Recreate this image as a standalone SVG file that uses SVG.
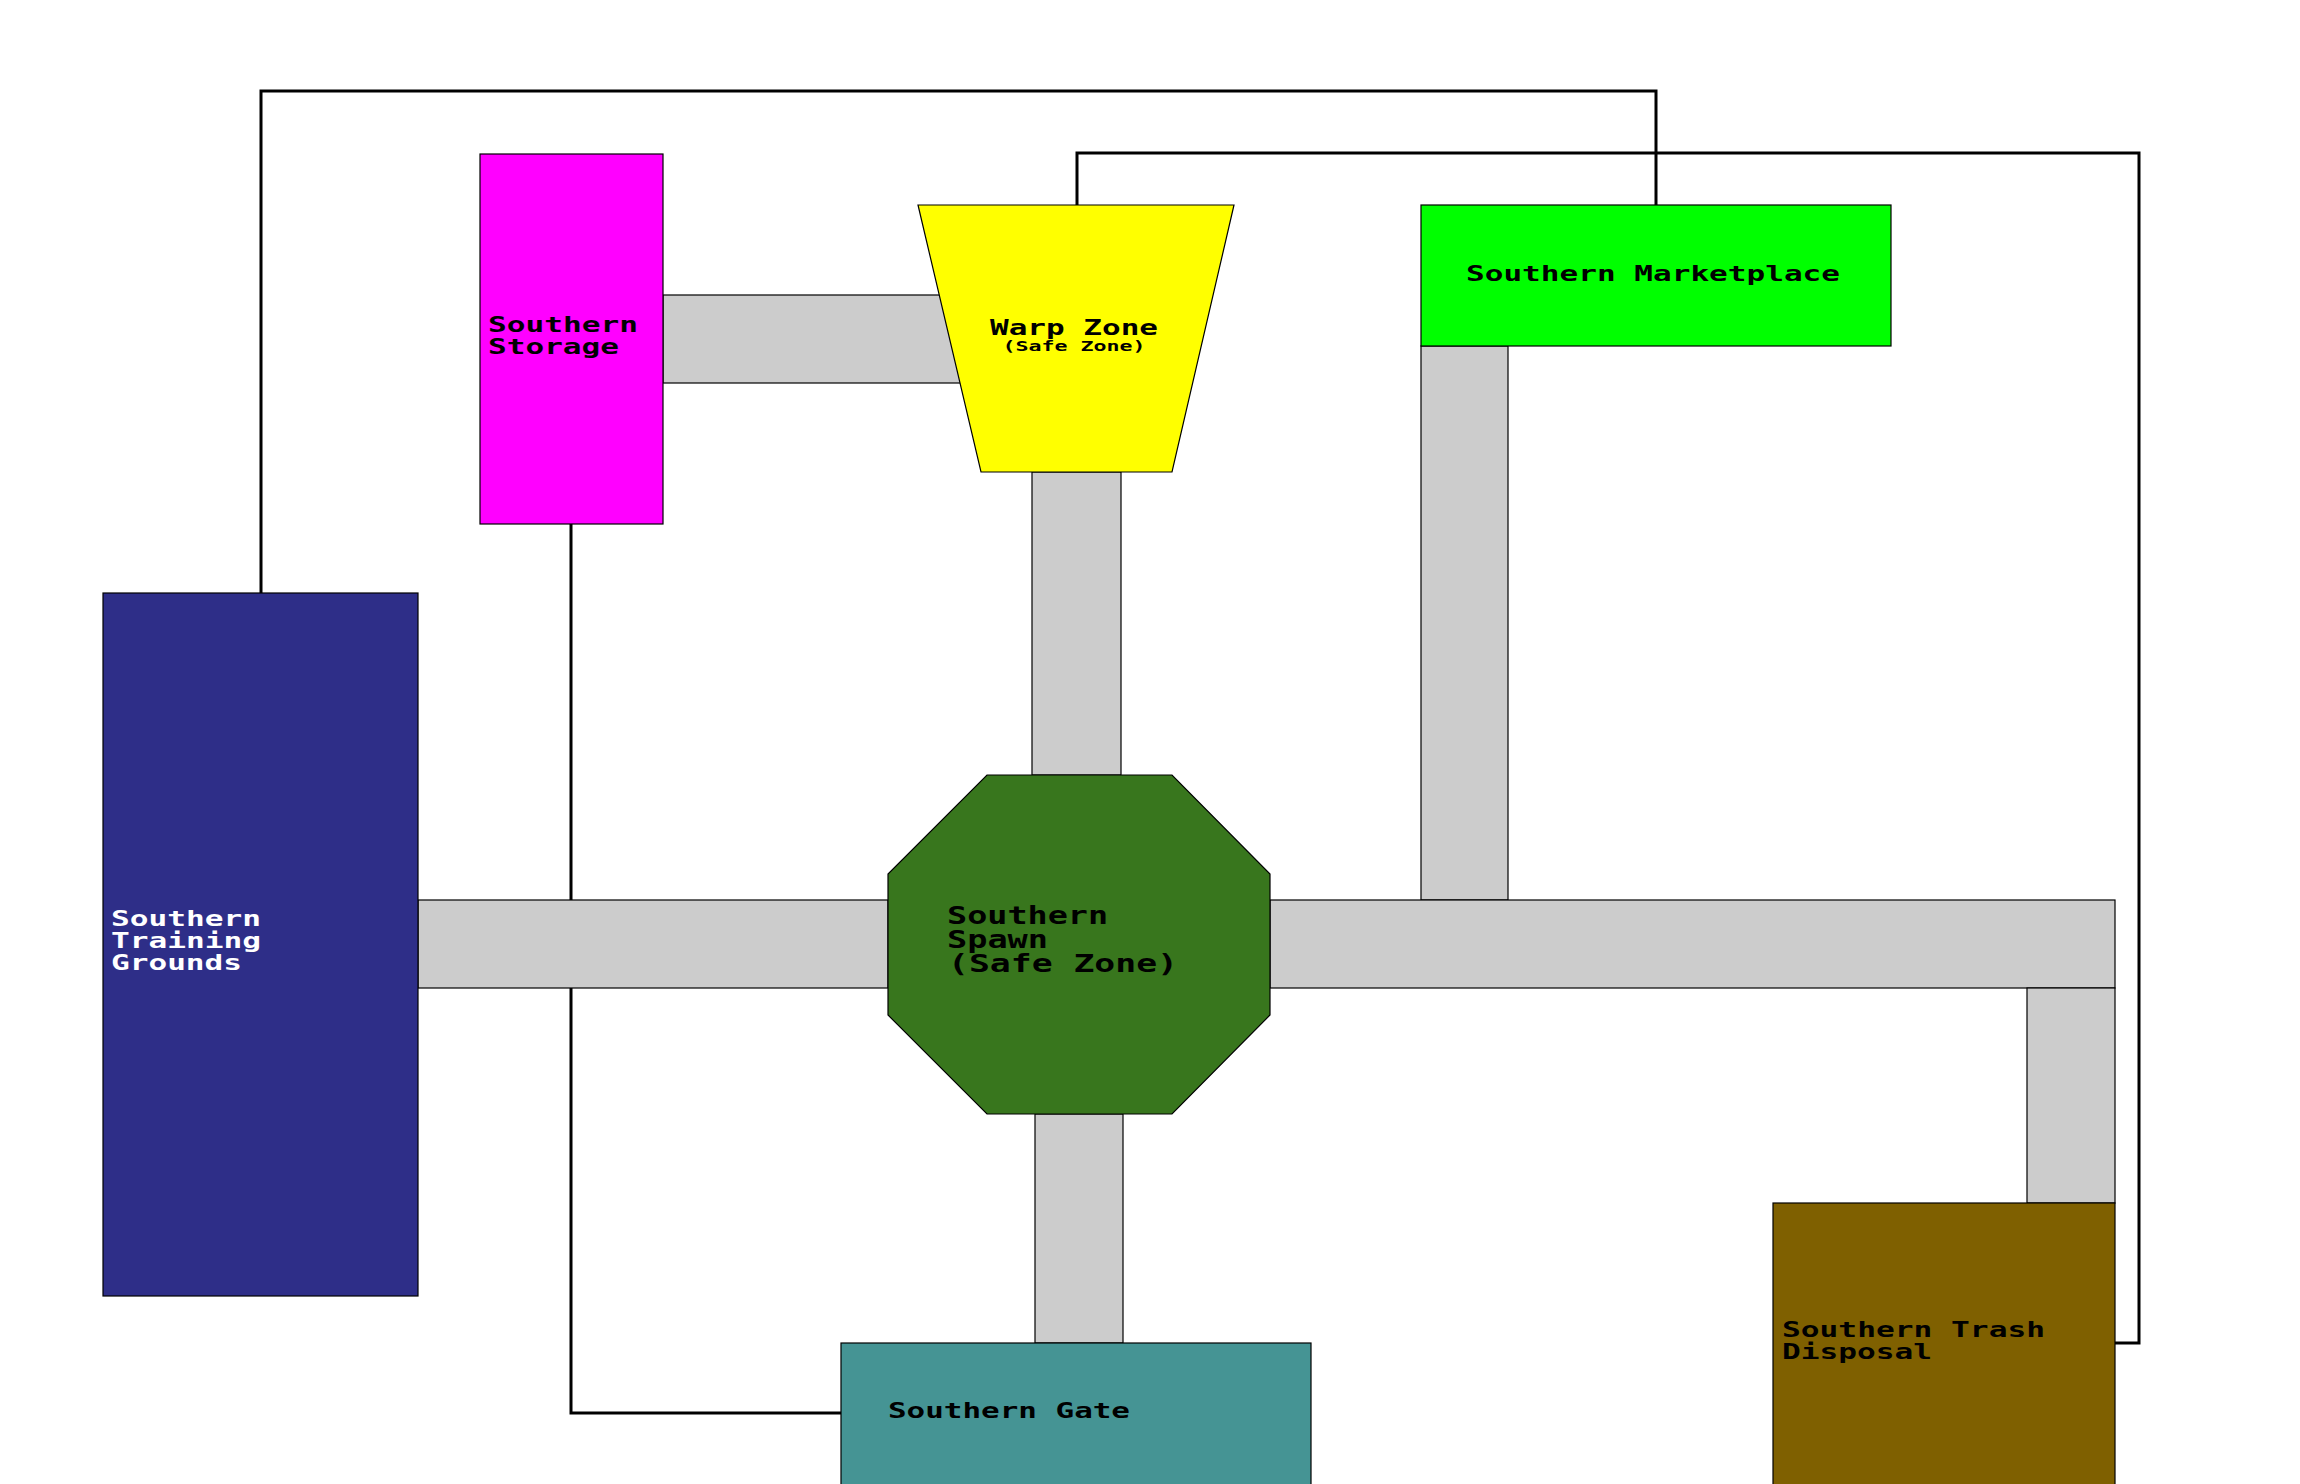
<svg xmlns="http://www.w3.org/2000/svg" width="2300" height="1484" viewBox="0 0 2300 1484">
<style>
.bg{fill:#ffffff}
.link{fill:none;stroke:#000000;stroke-width:3}
.band{fill:#cccccc;stroke:#000000;stroke-width:1.2}
.node{stroke:#000000;stroke-width:1.2}
.t{font-family:"DejaVu Sans Mono","Liberation Mono",monospace;font-weight:bold;font-size:21px;fill:#000000}
.w{fill:#ffffff}
.big{font-size:24px}
.small{font-size:13.5px}
</style>
<rect class="bg" x="0" y="0" width="2300" height="1484"/>
<g id="connectors">
<polyline class="link" points="261,593 261,91 1656,91 1656,205"/>
<polyline class="link" points="1077,205 1077,153 2139,153 2139,1343 2115,1343"/>
<polyline class="link" points="571,524 571,1413 841,1413"/>
<rect class="band" x="663" y="295" width="320" height="88"/>
<rect class="band" x="1032" y="472" width="89" height="303"/>
<rect class="band" x="1421" y="346" width="87" height="554"/>
<rect class="band" x="418" y="900" width="470" height="88"/>
<rect class="band" x="1270" y="900" width="845" height="88"/>
<rect class="band" x="2027" y="988" width="88" height="215"/>
<rect class="band" x="1035" y="1114" width="88" height="229"/>
</g>
<g id="storage">
<rect class="node" x="480" y="154" width="183" height="370" fill="#ff00ff"/>
<text class="t" x="488" y="332" textLength="150" lengthAdjust="spacingAndGlyphs">Southern</text>
<text class="t" x="488" y="354" textLength="131" lengthAdjust="spacingAndGlyphs">Storage</text>
</g>
<g id="warp">
<polygon class="node" points="918,205 1234,205 1172,472 981,472" fill="#ffff00"/>
<text class="t" x="1074" y="335" text-anchor="middle" textLength="168" lengthAdjust="spacingAndGlyphs">Warp Zone</text>
<text class="t small" x="1074" y="351" text-anchor="middle" textLength="143" lengthAdjust="spacingAndGlyphs">(Safe Zone)</text>
</g>
<g id="marketplace">
<rect class="node" x="1421" y="205" width="470" height="141" fill="#00ff00"/>
<text class="t" x="1466" y="281" textLength="374" lengthAdjust="spacingAndGlyphs">Southern Marketplace</text>
</g>
<g id="training">
<rect class="node" x="103" y="593" width="315" height="703" fill="#2e2e88"/>
<text class="t w" x="111" y="926" textLength="150" lengthAdjust="spacingAndGlyphs">Southern</text>
<text class="t w" x="111" y="948" textLength="150" lengthAdjust="spacingAndGlyphs">Training</text>
<text class="t w" x="111" y="970" textLength="131" lengthAdjust="spacingAndGlyphs">Grounds</text>
</g>
<g id="spawn">
<polygon class="node" points="987,775 1172,775 1270,874 1270,1015 1172,1114 987,1114 888,1015 888,874" fill="#38761d"/>
<text class="t big" x="947" y="924" textLength="161" lengthAdjust="spacingAndGlyphs">Southern</text>
<text class="t big" x="947" y="948" textLength="101" lengthAdjust="spacingAndGlyphs">Spawn</text>
<text class="t big" x="948" y="972" textLength="230" lengthAdjust="spacingAndGlyphs">(Safe Zone)</text>
</g>
<g id="gate">
<rect class="node" x="841" y="1343" width="470" height="150" fill="#459494"/>
<text class="t" x="888" y="1418" textLength="242" lengthAdjust="spacingAndGlyphs">Southern Gate</text>
</g>
<g id="trash">
<rect class="node" x="1773" y="1203" width="342" height="290" fill="#7f6000"/>
<text class="t" x="1782" y="1337" textLength="263" lengthAdjust="spacingAndGlyphs">Southern Trash</text>
<text class="t" x="1782" y="1359" textLength="150" lengthAdjust="spacingAndGlyphs">Disposal</text>
</g>
</svg>
